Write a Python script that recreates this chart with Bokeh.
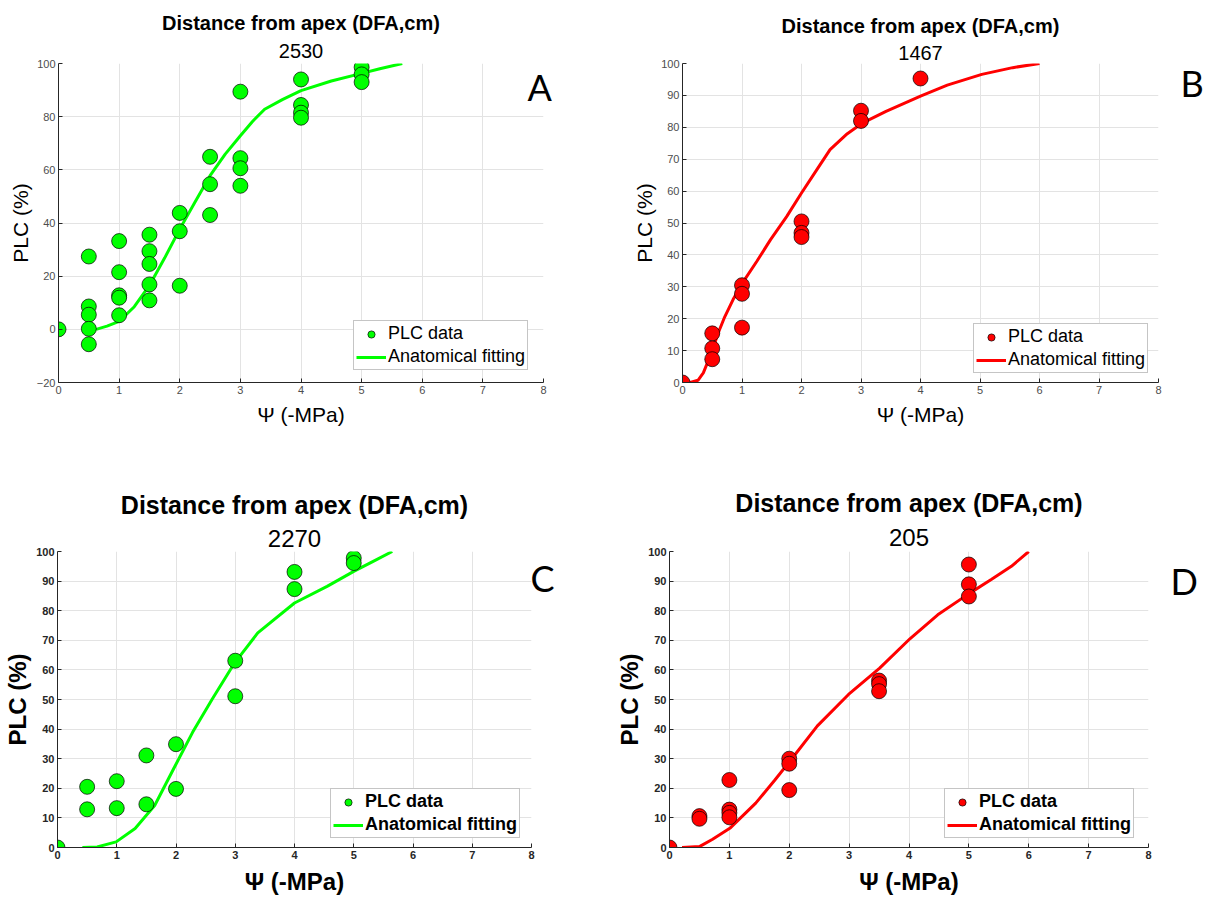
from bokeh.plotting import figure
from bokeh.models import (Title, Legend, LegendItem, FixedTicker, Range1d, LinearAxis)
from bokeh.layouts import row, column
from bokeh.embed import file_html
from bokeh.resources import INLINE

# ---------------- data ----------------
title_text = "Distance from apex (DFA,cm)"
x_label = "\u03a8 (-MPa)"
y_label = "PLC (%)"
legend_points = "PLC data"
legend_fit = "Anatomical fitting"

# Panel A (2530)
a_psi = [0, 0.5, 0.5, 0.5, 0.5, 0.5, 1, 1, 1, 1, 1, 1.5, 1.5, 1.5, 1.5, 1.5,
         2, 2, 2, 2.5, 2.5, 2.5, 3, 3, 3, 3, 4, 4, 4, 4, 5, 5, 5]
a_plc = [0, 27.4, 8.6, 5.5, 0.2, -5.6, 33.2, 21.5, 12.8, 11.9, 5.3, 35.6, 29.4, 24.6, 16.9, 10.9,
         43.8, 36.9, 16.4, 64.9, 54.6, 43.0, 89.4, 64.4, 60.6, 54.0, 94.0, 84.4, 81.5, 79.6,
         98.6, 95.9, 93.0]
a_fit_psi = [0.62, 0.8, 1.0, 1.25, 1.5, 1.75, 2.0, 2.25, 2.5, 2.75, 3.0, 3.2, 3.4, 3.7, 4.0,
             4.5, 5.0, 5.3, 5.67]
a_fit_plc = [0.0, 1.2, 3.0, 8.5, 16.5, 26.8, 37.7, 47.8, 57.8, 65.9, 72.8, 78.2, 82.8, 86.5,
             89.8, 93.4, 96.3, 98.0, 100.0]

# Panel B (1467)
b_psi = [0, 0.5, 0.5, 0.5, 1, 1, 1, 2, 2, 2, 3, 3, 4]
b_plc = [0, 15.4, 10.7, 7.3, 30.5, 27.8, 17.2, 50.5, 46.9, 45.6, 85.2, 82.0, 95.3]
b_fit_psi = [0.13, 0.26, 0.35, 0.48, 0.6, 0.71, 0.85, 1.0, 1.25, 1.48, 1.75, 2.0, 2.25, 2.48,
             2.77, 3.03, 3.42, 4.0, 4.45, 5.03, 5.55, 6.0]
b_fit_plc = [0.0, 0.7, 3.0, 9.0, 15.5, 20.6, 26.0, 31.0, 38.0, 44.8, 52.0, 59.4, 66.5, 73.0,
             78.0, 81.4, 85.0, 89.8, 93.2, 96.6, 98.7, 100.0]

# Panel C (2270)
c_psi = [0, 0.5, 0.5, 1, 1, 1.5, 1.5, 2, 2, 3, 3, 4, 4, 5, 5]
c_plc = [0, 20.5, 12.9, 22.4, 13.3, 31.1, 14.6, 34.9, 19.8, 63.1, 51.1, 93.1, 87.3, 97.8, 96.1]
c_fit_psi = [0.42, 0.67, 0.99, 1.31, 1.64, 1.96, 2.28, 2.61, 2.99, 3.38, 4.0, 4.55, 5.0, 5.32, 5.65]
c_fit_plc = [0.0, 0.2, 1.9, 6.4, 14.2, 26.6, 38.9, 50.1, 62.4, 72.5, 82.6, 88.2, 93.3, 96.6, 100.0]

# Panel D (205)
d_psi = [0, 0.5, 0.5, 1, 1, 1, 1, 2, 2, 2, 3.5, 3.5, 3.5, 5, 5, 5]
d_plc = [0, 10.6, 9.7, 22.8, 12.8, 11.7, 10.2, 30.0, 28.3, 19.4, 56.4, 55.2, 52.8, 95.6, 88.9, 84.8]
d_fit_psi = [0.21, 0.5, 0.72, 1.02, 1.44, 1.76, 2.02, 2.47, 2.99, 3.51, 4.02, 4.48, 4.99, 5.38,
             5.71, 6.0]
d_fit_plc = [0.0, 0.3, 2.8, 6.7, 15.0, 22.8, 29.4, 41.1, 51.7, 60.6, 70.6, 78.6, 85.6, 90.6,
             95.0, 100.0]

x_ticks = [0, 1, 2, 3, 4, 5, 6, 7, 8]
y_ticks_a = [-20, 0, 20, 40, 60, 80, 100]
y_ticks = [0, 10, 20, 30, 40, 50, 60, 70, 80, 90, 100]

GREEN = "#00ff00"
RED = "#ff0000"
FONT = "Liberation Sans"


def panel(xs, ys, fx, fy, color, dfa, letter, ymin, yticks, w, h, bl, br, bt, bb,
          bold, title_size, sub_size, label_size, leg_loc, letter_y, letter_standoff,
          marker_size, sub_standoff, main_standoff):
    p = figure(width=w, height=h, title=None, toolbar_location=None,
               output_backend="svg", x_range=Range1d(0, 8), y_range=Range1d(ymin, 100),
               min_border_left=bl, min_border_right=br, min_border_top=bt,
               min_border_bottom=bb, background_fill_color="white",
               border_fill_color="white")
    p.outline_line_color = None
    style = "bold" if bold else "normal"
    tick_color = "#262626" if bold else "#4d4d4d"
    for ax in (p.xaxis[0], p.yaxis[0]):
        ax.axis_line_color = "#262626"
        ax.axis_line_width = 1
        ax.major_tick_in = 4
        ax.major_tick_out = 0
        ax.major_tick_line_color = "#262626"
        ax.minor_tick_line_color = None
        ax.major_label_text_font = FONT
        ax.major_label_text_font_size = "11px"
        ax.major_label_text_font_style = style
        ax.major_label_text_color = tick_color
        ax.axis_label_text_font = FONT
        ax.axis_label_text_font_style = style
        ax.axis_label_text_font_size = label_size
        ax.axis_label_text_color = "black"
    p.xaxis[0].ticker = FixedTicker(ticks=x_ticks)
    p.yaxis[0].ticker = FixedTicker(ticks=yticks)
    p.xaxis[0].axis_label = x_label
    p.yaxis[0].axis_label = y_label
    p.xaxis[0].major_label_standoff = 3
    p.yaxis[0].major_label_standoff = 3
    p.xaxis[0].axis_label_standoff = 6
    p.yaxis[0].axis_label_standoff = 2
    p.xgrid[0].ticker = FixedTicker(ticks=x_ticks)
    p.ygrid[0].ticker = FixedTicker(ticks=yticks)
    for g in (p.xgrid[0], p.ygrid[0]):
        g.grid_line_color = "#e3e3e3"
        g.grid_line_width = 1

    ln = p.line(fx, fy, line_color=color, line_width=3)
    sc = p.scatter(xs, ys, size=marker_size, fill_color=color, line_color="black",
                   line_width=0.7)

    leg = Legend(items=[LegendItem(label=legend_points, renderers=[sc]),
                        LegendItem(label=legend_fit, renderers=[ln])],
                 location=leg_loc)
    leg.label_text_font = FONT
    leg.label_text_font_size = "18px"
    leg.label_text_font_style = style
    leg.label_text_color = "black"
    leg.glyph_width = 30
    leg.glyph_height = 18
    leg.label_height = 18
    leg.label_standoff = 2
    leg.spacing = 2
    leg.padding = 2
    leg.margin = 0
    leg.border_line_color = "#8c8c8c"
    leg.border_line_width = 1
    leg.background_fill_color = "white"
    leg.background_fill_alpha = 1
    p.add_layout(leg)

    sub = Title(text=dfa, align="center", text_font=FONT, text_font_size=sub_size,
                text_font_style="normal", text_color="black", standoff=sub_standoff)
    p.add_layout(sub, "above")
    main = Title(text=title_text, align="center", text_font=FONT,
                 text_font_size=title_size, text_font_style="bold", text_color="black",
                 standoff=main_standoff)
    p.add_layout(main, "above")

    # panel letter drawn as the single label of a bare right-hand axis
    lax = LinearAxis(ticker=FixedTicker(ticks=[letter_y]),
                     major_label_overrides={letter_y: letter})
    lax.axis_line_color = None
    lax.major_tick_line_color = None
    lax.minor_tick_line_color = None
    lax.major_tick_in = 0
    lax.major_tick_out = 0
    lax.major_label_standoff = letter_standoff
    lax.major_label_text_font = "Lato"
    lax.major_label_text_font_size = "36px"
    lax.major_label_text_color = "black"
    p.add_layout(lax, "right")
    return p


pA = panel(a_psi, a_plc, a_fit_psi, a_fit_plc, GREEN, "2530", "A", -20, y_ticks_a,
           600, 440, 58, 57, 60, 56, False, "20px", "20px", "21px", (295, 12),
           91, -16, 15, 11, 6)
pB = panel(b_psi, b_plc, b_fit_psi, b_fit_plc, RED, "1467", "B", 0, y_ticks,
           606, 440, 82, 45, 63, 58, False, "20px", "20px", "21px", (291, 9),
           94, 22, 15, 8, 5)
pC = panel(c_psi, c_plc, c_fit_psi, c_fit_plc, GREEN, "2270", "C", 0, y_ticks,
           600, 457, 57, 69, 111, 49, True, "25px", "24px", "24px", (273, 9),
           91, -1, 15, 9, 9)
pD = panel(d_psi, d_plc, d_fit_psi, d_fit_plc, RED, "205", "D", 0, y_ticks,
           606, 457, 69, 58, 108, 49, True, "25px", "24px", "24px", (275, 9),
           90, 22, 15, 11, 9)

layout = column(row(pA, pB), row(pC, pD))
open("out.html", "w").write(file_html(layout, INLINE))
